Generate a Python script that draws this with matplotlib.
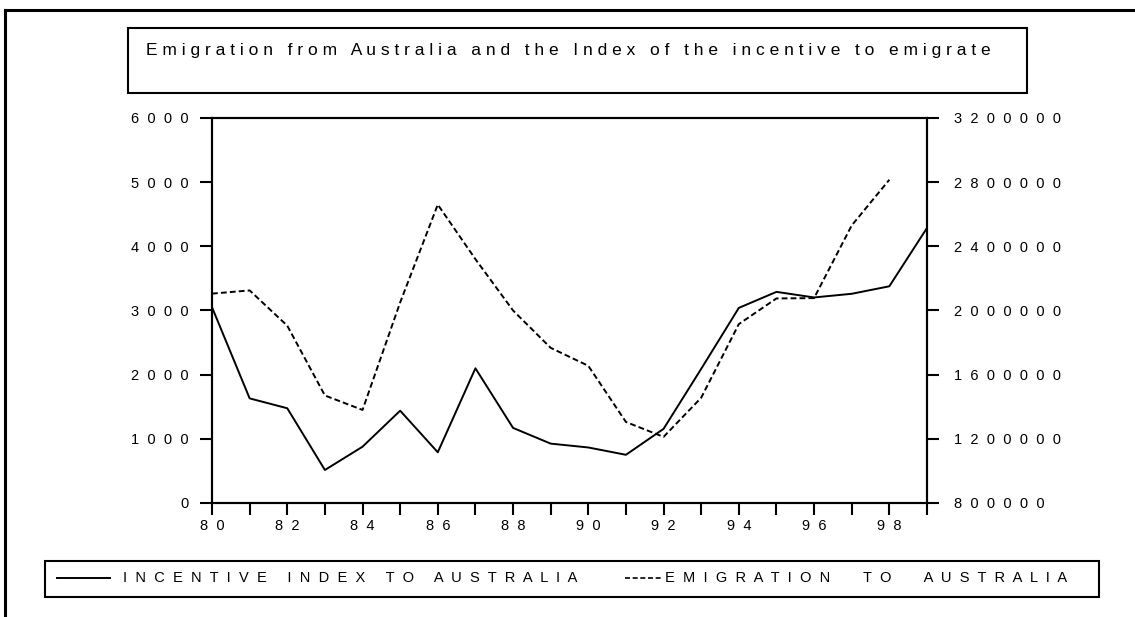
import numpy as np
import matplotlib
matplotlib.use('Agg')
import matplotlib.pyplot as plt
from matplotlib.lines import Line2D
from matplotlib.patches import Rectangle

plt.rcParams['font.family'] = ['Liberation Sans', 'DejaVu Sans']

# data
years = list(range(80, 100))
incentive = [3050, 1630, 1476, 514, 877, 1438, 790, 2099, 1170, 925,
             865, 751, 1155, 2090, 3040, 3290, 3203, 3260, 3377, 4285]
emigration = [2105000, 2125000, 1905000, 1470000, 1380000, 2050000, 2660000,
              2320000, 2000000, 1767000, 1655000, 1305000, 1212000, 1456000,
              1915000, 2075000, 2077000, 2530000, 2815000, np.nan]

left_ticks = [0, 1000, 2000, 3000, 4000, 5000, 6000]
right_ticks = [800000, 1200000, 1600000, 2000000, 2400000, 2800000, 3200000]

title = 'Emigration from Australia and the Index of the incentive to emigrate'
label1 = 'INCENTIVE INDEX TO AUSTRALIA'
label2 = 'EMIGRATION TO AUSTRALIA'


def spaced(s, gap=' '):
    # letter spaced text like the original printout
    return gap.join(list(s))


fig = plt.figure(figsize=(11.35, 6.17), dpi=100)
ax = fig.add_axes([0.1868, 0.1848, 0.6299, 0.624])
ax2 = ax.twinx()

ax.plot(years, incentive, color='black', lw=1.4)
ax2.plot(years, emigration, color='black', lw=1.4, linestyle=(0, (3, 1.6)))

ax.set_xlim(80, 99)
ax.set_ylim(0, 6000)
ax2.set_ylim(800000, 3200000)

ax.set_xticks(years)
ax.set_xticklabels([spaced(str(y), '  ') if y % 2 == 0 else '' for y in years])
ax.set_yticks(left_ticks)
ax.set_yticklabels([spaced(str(v), '  ') for v in left_ticks])
ax2.set_yticks(right_ticks)
ax2.set_yticklabels([spaced(str(v), '  ') for v in right_ticks])

for a in (ax, ax2):
    for sp in a.spines.values():
        sp.set_linewidth(1.5)
    a.tick_params(axis='both', length=8.5, width=1.5, labelsize=10.5, colors='black')
ax.tick_params(axis='y', pad=8)
ax.tick_params(axis='x', pad=3)
ax2.tick_params(axis='y', pad=11)

# title box
fig.patches.append(Rectangle((0.1128, 0.8493), 0.792, 0.1053, transform=fig.transFigure,
                             fill=False, lw=1.5, ec='black'))
fig.text(0.1286, 0.918, spaced(title), fontsize=12.5, va='center', ha='left')

# legend box drawn by hand
fig.patches.append(Rectangle((0.0396, 0.0330), 0.929, 0.0583, transform=fig.transFigure,
                             fill=False, lw=1.5, ec='black'))
fig.lines.append(Line2D([0.050, 0.097], [0.0632, 0.0632], transform=fig.transFigure,
                        color='black', lw=1.4))
fig.text(0.108, 0.0632, spaced(label1, '  '), fontsize=10.5, va='center', ha='left')
fig.lines.append(Line2D([0.551, 0.583], [0.0632, 0.0632], transform=fig.transFigure,
                        color='black', lw=1.2, linestyle=(0, (3, 1.6))))
fig.text(0.586, 0.0632, spaced(label2.replace(' ', '  '), '  '), fontsize=10.5,
         va='center', ha='left')

# outer frame (top and left)
fig.lines.append(Line2D([0.0044, 1.0], [0.984, 0.984], transform=fig.transFigure,
                        color='black', lw=2.2))
fig.lines.append(Line2D([0.0044, 0.0044], [0.0, 0.984], transform=fig.transFigure,
                        color='black', lw=2.2))

plt.savefig('out.png', dpi=100)
